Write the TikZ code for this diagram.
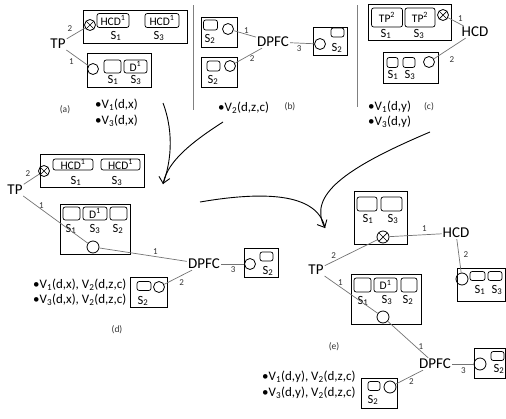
\documentclass[tikz,border=0pt]{standalone}
\usepackage{fontspec}
\setmainfont{Carlito}
\usetikzlibrary{arrows.meta}
\begin{document}
\begin{tikzpicture}[x=1pt,y=-1pt,
 frame/.style={draw=black, line width=1pt},
 rb/.style={draw=black, line width=0.7pt, rounded corners=2.2pt, inner sep=0pt, minimum width=#1, minimum height=12pt, font=\fontsize{11.5}{11.5}\selectfont},
 rb/.default=17pt,
 sc/.style={circle, draw=black, line width=0.8pt, minimum size=11pt, inner sep=0pt},
 ox/.style={sc, path picture={\draw[line width=0.7pt] (path picture bounding box.south west) -- (path picture bounding box.north east) (path picture bounding box.north west) -- (path picture bounding box.south east);}},
 big/.style={font=\fontsize{15}{16}\selectfont, inner sep=1pt},
 sl/.style={font=\fontsize{12.5}{13}\selectfont, inner sep=0pt},
 vt/.style={font=\fontsize{13}{14}\selectfont, inner sep=0pt, anchor=west},
 num/.style={font=\fontsize{9}{10}\selectfont, text=black!80, inner sep=0pt},
 con/.style={draw=black!55, line width=0.7pt},
 tag/.style={font=\fontsize{9.5}{10}\selectfont, text=black!80, inner sep=0pt},
 sep/.style={draw=black!50, line width=0.9pt},
 flow/.style={draw=black, line width=0.9pt}
]
\useasboundingbox (0,0) rectangle (506,418);

% ---------- panel (a)
\draw[frame] (83,10) rectangle (187,43);
\node[ox] (ax) at (90,25) {};
\node[rb=32pt, minimum height=14pt] (ah1) at (113,20.5) {HCD\textsuperscript{1}};
\node[rb=34pt, minimum height=14pt] (ah3) at (162,20.5) {HCD\textsuperscript{1}};
\node[sl] (as1) at (116,36) {S\textsubscript{1}};
\node[sl] (as3) at (159,36) {S\textsubscript{3}};
\draw[frame] (87,53) rectangle (151,87);
\node[sc] (ac) at (93,69) {};
\node[rb=17pt, minimum height=13pt] (ae) at (112.5,66.5) {};
\node[rb=23pt, minimum height=13pt] (ad) at (135.5,66.5) {D\textsuperscript{1}};
\node[sl] (bs1) at (113,80) {S\textsubscript{1}};
\node[sl] (bs3) at (136,80) {S\textsubscript{3}};
\node[big] (atp) at (58,44) {TP};
\draw[con] (atp) -- node[num, shift={(-6,-5)}] {2} (ax);
\draw[con] (atp) -- node[num, shift={(-6,4)}] {1} (ac);
\node[tag] (ta) at (65,110) {(a)};
\node[vt] (av1) at (95,105) {\textbullet V\textsubscript{1}(d,x)};
\node[vt] (av3) at (95,121) {\textbullet V\textsubscript{3}(d,x)};

\draw[sep] (193,5) -- (193,110);
\draw[sep] (357,5) -- (357,107);

% ---------- panel (b)
\draw[frame] (201,17) rectangle (237,47);
\node[rb=14pt, minimum height=10pt] (b1r) at (210.5,25) {};
\node[sc] (b1c) at (228,29) {};
\node[sl] (b1s) at (210,39) {S\textsubscript{2}};
\draw[frame] (201,57) rectangle (237,87);
\node[rb=13pt, minimum height=10pt] (b2r) at (213.5,66) {};
\node[sc] (b2c) at (230,66) {};
\node[sl] (b2s) at (213,80) {S\textsubscript{2}};
\node[big] (bdp) at (273,42) {DPFC};
\draw[con] (b1c) -- node[num, shift={(1.5,-3.5)}] {1} (bdp);
\draw[con] (b2c) -- node[num, shift={(3.5,3)}] {2} (bdp);
\draw[frame] (313,27) rectangle (347,55);
\node[sc] (b3c) at (320,44) {};
\node[rb=13pt, minimum height=9pt] (b3r) at (337.5,32.5) {};
\node[sl] (b3s) at (337,48) {S\textsubscript{2}};
\draw[con] (bdp) -- node[num, shift={(-3,5.5)}] {3} (b3c);
\node[vt] (bv2) at (218,108) {\textbullet V\textsubscript{2}(d,z,c)};
\node[tag] (tb) at (290,107) {(b)};

% ---------- panel (c)
\draw[frame] (368,4) rectangle (451,40);
\node[rb=31pt, minimum height=19pt] (ct1) at (387,17.5) {TP\textsuperscript{2}};
\node[rb=30pt, minimum height=19pt] (ct3) at (420,17.5) {TP\textsuperscript{2}};
\node[ox] (cx) at (443,15) {};
\node[sl] (cs1) at (386,34) {S\textsubscript{1}};
\node[sl] (cs3) at (419,34) {S\textsubscript{3}};
\node[big] (chcd) at (475,32) {HCD};
\draw[con] (cx) -- node[num, shift={(4.5,-3)}] {1} (chcd);
\draw[frame] (383,52) rectangle (438,83);
\node[rb=11pt, minimum height=10pt] (cr1) at (392.5,62.5) {};
\node[rb=12pt, minimum height=10pt] (cr3) at (409,62.5) {};
\node[sc] (cc) at (429,62) {};
\node[sl] (cbs1) at (393,75) {S\textsubscript{1}};
\node[sl] (cbs3) at (410,75) {S\textsubscript{3}};
\draw[con] (cc) -- node[num, shift={(2,11)}] {2} (chcd);
\node[vt] (cv1) at (368,107) {\textbullet V\textsubscript{1}(d,y)};
\node[vt] (cv3) at (368,122) {\textbullet V\textsubscript{3}(d,y)};
\node[tag] (tc) at (429,107) {(c)};

% ---------- flow arrows
\coordinate (f1a) at (163,103);
\coordinate (f2a) at (223,122);
\coordinate (t1) at (163,184);
\draw[flow] (f1a) .. controls (175,135) and (170,165) .. (t1);
\draw[flow, -{Straight Barb[length=6pt,width=11pt]}] (f2a) .. controls (195,140) and (168,160) .. (t1);
\coordinate (f3a) at (200,202);
\coordinate (f4a) at (430,132);
\coordinate (t2) at (325,228);
\draw[flow] (f3a) .. controls (270,190) and (318,195) .. (t2);
\draw[flow, -{Straight Barb[length=6pt,width=11pt]}] (f4a) .. controls (345,168) and (308,195) .. (t2);

% ---------- panel (d)
\draw[frame] (40,154) rectangle (144,187);
\node[ox] (dx) at (44,171) {};
\node[rb=40pt, minimum height=11pt] (dh1) at (73,164.5) {HCD\textsuperscript{1}};
\node[rb=39pt, minimum height=11pt] (dh3) at (120.5,164.5) {HCD\textsuperscript{1}};
\node[sl] (ds1) at (76,181) {S\textsubscript{1}};
\node[sl] (ds3) at (117,181) {S\textsubscript{3}};
\node[big] (dtp) at (15,190) {TP};
\draw[con] (dtp) -- node[num, shift={(-3.5,-5.5)}] {2} (dx);
\draw[frame] (60,204) rectangle (130,254);
\node[rb=17pt, minimum height=13pt] (dm1) at (71.5,213.5) {};
\node[rb=24pt, minimum height=13pt] (dm3) at (95,213.5) {D\textsuperscript{1}};
\node[rb=17pt, minimum height=13pt] (dm2) at (118.5,213.5) {};
\node[sl] (dms1) at (71,229) {S\textsubscript{1}};
\node[sl] (dms3) at (95,229) {S\textsubscript{3}};
\node[sl] (dms2) at (118,229) {S\textsubscript{2}};
\node[sc, minimum size=12pt] (dc) at (93,247) {};
\draw[con] (dtp) -- node[num, pos=0.28, shift={(0,-4)}] {1} (dc);
\node[big] (ddp) at (204,264) {DPFC};
\draw[con] (dc) -- node[num, pos=0.64, shift={(0,-5)}] {1} (ddp);
\draw[frame] (244,248) rectangle (278,277);
\node[sc] (drc) at (250,264) {};
\node[rb=13pt, minimum height=9pt] (drr) at (266.5,256.5) {};
\node[sl] (drs) at (268,271) {S\textsubscript{2}};
\draw[con] (ddp) -- node[num, shift={(0.5,6)}] {3} (drc);
\draw[frame] (130,277) rectangle (167,307);
\node[rb=14pt, minimum height=9pt] (dbr) at (144,286) {};
\node[sc] (dbc) at (159,287) {};
\node[sl] (dbs) at (143,301) {S\textsubscript{2}};
\draw[con] (dbc) -- node[num, shift={(3.5,5.5)}] {2} (ddp);
\node[vt] (dv1) at (33,285) {\textbullet V\textsubscript{1}(d,x), V\textsubscript{2}(d,z,c)};
\node[vt] (dv3) at (33,300) {\textbullet V\textsubscript{3}(d,x), V\textsubscript{2}(d,z,c)};
\node[tag] (td) at (117,330) {(d)};

% ---------- panel (e)
\draw[frame] (354,191) rectangle (407,244);
\node[rb=20pt, minimum height=14pt] (et1) at (367,204) {};
\node[rb=21pt, minimum height=14pt] (et3) at (391.5,204) {};
\node[sl] (ets1) at (368,219) {S\textsubscript{1}};
\node[sl] (ets3) at (393,219) {S\textsubscript{3}};
\node[ox, minimum size=12pt] (ex) at (383,237) {};
\node[big] (ehcd) at (456,233) {HCD};
\draw[con] (ex) -- node[num, pos=0.67, shift={(0,-6)}] {1} (ehcd);
\node[big] (etp) at (316,270) {TP};
\draw[con] (etp) -- node[num, pos=0.17, shift={(0,-6)}] {2} (ex);
\draw[frame] (457,268) -- (505.5,268) -- (505.5,301) -- (457,301) -- cycle;
\node[sc, minimum size=12pt] (erc) at (462,279) {};
\node[rb=15pt, minimum height=9pt] (err1) at (477.5,276) {};
\node[rb=14pt, minimum height=9pt] (err3) at (495,276) {};
\node[sl] (ers1) at (480,290) {S\textsubscript{1}};
\node[sl] (ers3) at (497,290) {S\textsubscript{3}};
\draw[con] (ehcd) -- node[num, shift={(7,-1)}] {2} (erc);
\draw[frame] (351,274) rectangle (421,324);
\node[rb=17pt, minimum height=14pt] (em1) at (362.5,285) {};
\node[rb=23pt, minimum height=14pt] (em3) at (385.5,285) {D\textsuperscript{1}};
\node[rb=16pt, minimum height=14pt] (em2) at (409,285) {};
\node[sl] (ems1) at (363,301) {S\textsubscript{1}};
\node[sl] (ems3) at (387,300) {S\textsubscript{3}};
\node[sl] (ems2) at (408,300) {S\textsubscript{2}};
\node[sc, minimum size=12pt] (ec) at (383,317) {};
\draw[con] (etp) -- node[num, pos=0.3, shift={(0,-5)}] {1} (ec);
\node[big] (edp) at (435,364) {DPFC};
\draw[con] (ec) -- node[num, pos=0.77, shift={(2,-3)}] {1} (edp);
\draw[frame] (474,348) -- (505.5,348) -- (505.5,378) -- (474,378) -- cycle;
\node[sc, minimum size=12pt] (erc2) at (480,364) {};
\node[rb=13pt, minimum height=9pt] (err2) at (497.5,356) {};
\node[sl] (ers2) at (499,369) {S\textsubscript{2}};
\draw[con] (edp) -- node[num, shift={(0.5,7)}] {3} (erc2);
\draw[frame] (361,378) rectangle (397,408);
\node[rb=12pt, minimum height=9pt] (ebr) at (374,386) {};
\node[sc, minimum size=12pt] (ebc) at (390,387) {};
\node[sl] (ebs) at (373,400) {S\textsubscript{2}};
\draw[con] (ebc) -- node[num, shift={(2,4)}] {2} (edp);
\node[vt] (ev1) at (262,377) {\textbullet V\textsubscript{1}(d,y), V\textsubscript{2}(d,z,c)};
\node[vt] (ev3) at (262,393) {\textbullet V\textsubscript{3}(d,y), V\textsubscript{2}(d,z,c)};
\node[tag] (te) at (334,347) {(e)};
\end{tikzpicture}
\end{document}
